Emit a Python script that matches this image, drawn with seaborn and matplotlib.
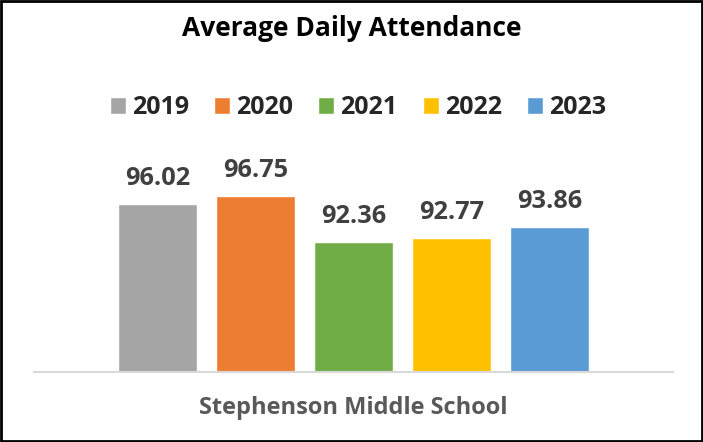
import matplotlib
matplotlib.use("Agg")
import matplotlib.pyplot as plt
import seaborn as sns
import pandas as pd
from matplotlib.patches import Rectangle

school = ["Stephenson Middle School"]
years = ["2019", "2020", "2021", "2022", "2023"]
values = [96.02, 96.75, 92.36, 92.77, 93.86]
colors = ["#A5A5A5", "#ED7D31", "#70AD47", "#FFC000", "#5B9BD5"]

df = pd.DataFrame({"school": school * len(years), "year": years, "value": values})

sns.set_theme(style="white")
plt.rcParams["font.family"] = ["Open Sans", "DejaVu Sans"]

W, H = 703, 442
fig = plt.figure(figsize=(W / 100, H / 100), dpi=100)
ax = fig.add_axes([34 / W, 1 - 372 / H, (673 - 34) / W, 209.6 / H])

sns.barplot(data=df, x="school", y="value", hue="year", palette=colors,
            width=0.767, gap=0.2, ax=ax, saturation=1, errorbar=None)
ax.set_ylim(80, 100)
ax.set_xlim(-0.5, 0.5)

for cont in ax.containers:
    for bar in cont:
        h = bar.get_height()
        ax.annotate(f"{h:.2f}", (bar.get_x() + bar.get_width() / 2, h),
                    xytext=(0, 13.7), textcoords="offset points",
                    ha="center", va="baseline", fontsize=18.3, fontweight="bold",
                    color="#404040")

for s in ["top", "right", "left"]:
    ax.spines[s].set_visible(False)
ax.spines["bottom"].set_color("#D9D9D9")
ax.spines["bottom"].set_linewidth(1.5)
ax.set_yticks([])
ax.set_xticks([])
ax.set_xlabel("")
ax.set_ylabel("")

sns.move_legend(ax, loc="center", bbox_to_anchor=(358 / W, 1 - 108 / H),
                bbox_transform=fig.transFigure, ncol=5, frameon=False, title=None,
                handlelength=0.64, handleheight=0.64, handletextpad=0.24,
                columnspacing=1.0, prop={"size": 18, "weight": "bold"})

fig.text(352 / W, 1 - 29 / H, "Average Daily Attendance", ha="center", va="center",
         fontsize=19, fontweight="bold", color="black")
fig.text(353 / W, 1 - 408 / H, school[0], ha="center", va="center",
         fontsize=17, fontweight="bold", color="#595959")

fig.patches.append(Rectangle((1 / W, 1 / H), (W - 2) / W, (H - 2) / H,
                             transform=fig.transFigure, fill=False,
                             edgecolor="black", linewidth=2))

fig.savefig("out.png", dpi=100)
